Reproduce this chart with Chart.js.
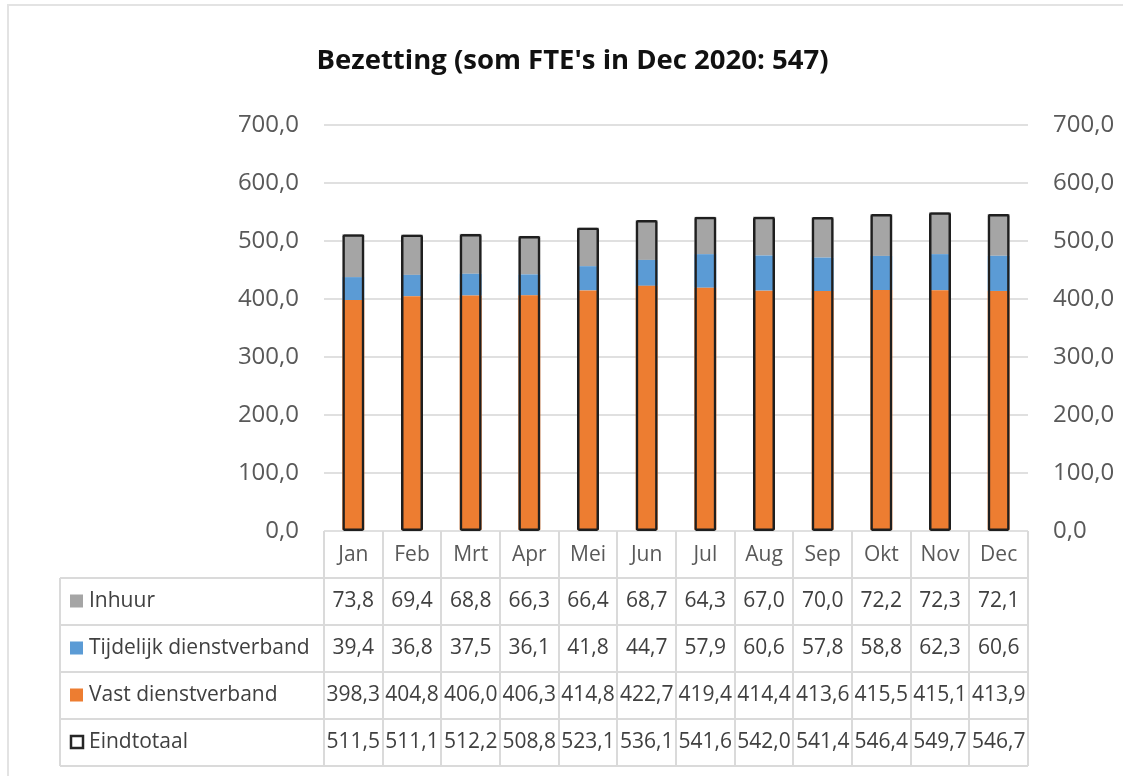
<!DOCTYPE html>
<html>
<head>
<meta charset="utf-8">
<script src="https://cdn.jsdelivr.net/npm/chart.js@4/dist/chart.umd.min.js"></script>
<style>
  body { margin: 0; background: #fff; }
  #wrap { width: 1123px; height: 776px; }
</style>
</head>
<body>
<div id="wrap"><canvas id="bezetting"></canvas></div>
<script>
// maanden en reeksen (FTE)
const maanden = ["Jan", "Feb", "Mrt", "Apr", "Mei", "Jun", "Jul", "Aug", "Sep", "Okt", "Nov", "Dec"];
const inhuur = [73.8, 69.4, 68.8, 66.3, 66.4, 68.7, 64.3, 67.0, 70.0, 72.2, 72.3, 72.1];
const tijdelijk = [39.4, 36.8, 37.5, 36.1, 41.8, 44.7, 57.9, 60.6, 57.8, 58.8, 62.3, 60.6];
const vast = [398.3, 404.8, 406.0, 406.3, 414.8, 422.7, 419.4, 414.4, 413.6, 415.5, 415.1, 413.9];
const eindtotaal = [511.5, 511.1, 512.2, 508.8, 523.1, 536.1, 541.6, 542.0, 541.4, 546.4, 549.7, 546.7];
const yTicks = [0, 100, 200, 300, 400, 500, 600, 700];

const fmt = (v) => v.toFixed(1).replace(".", ",");
const FONT = "'Open Sans', 'Noto Sans', sans-serif";

// rijen van de gegevenstabel onder de grafiek
const rijen = [
    { label: "Inhuur", data: inhuur, kleur: "#a5a5a5" },
    { label: "Tijdelijk dienstverband", data: tijdelijk, kleur: "#5b9bd5" },
    { label: "Vast dienstverband", data: vast, kleur: "#ed7d31" },
    { label: "Eindtotaal", data: eindtotaal, kleur: null },
];

const tabelPlugin = {
    id: "tabel",
    beforeDraw(chart) {
        const ctx = chart.ctx;
        ctx.save();
        ctx.strokeStyle = "#e3e3e3";
        ctx.lineWidth = 2;
        ctx.beginPath();
        ctx.moveTo(8, chart.height);
        ctx.lineTo(8, 5);
        ctx.lineTo(chart.width, 5);
        ctx.stroke();
        ctx.restore();
    },
    afterDraw(chart) {
        const ctx = chart.ctx;
        const xs = chart.scales.x;
        const links = xs.left, rechts = xs.right;
        const kolom = (rechts - links) / maanden.length;
        const top = chart.chartArea.bottom;
        const kopH = 47, rijH = 47;
        const tabelLinks = 60;
        const bodyTop = top + kopH;
        const bodyBottom = bodyTop + rijH * rijen.length;

        ctx.save();
        ctx.strokeStyle = "#dadada";
        ctx.lineWidth = 2;
        // verticale lijnen
        for (let i = 0; i <= maanden.length; i++) {
            const x = Math.round(links + i * kolom);
            ctx.beginPath();
            ctx.moveTo(x, top);
            ctx.lineTo(x, bodyBottom);
            ctx.stroke();
        }
        ctx.beginPath();
        ctx.moveTo(tabelLinks, bodyTop);
        ctx.lineTo(tabelLinks, bodyBottom);
        ctx.stroke();
        // horizontale lijnen
        for (let r = 0; r <= rijen.length; r++) {
            const y = Math.round(bodyTop + r * rijH);
            ctx.beginPath();
            ctx.moveTo(tabelLinks, y);
            ctx.lineTo(rechts, y);
            ctx.stroke();
        }

        ctx.textAlign = "center";
        ctx.textBaseline = "middle";
        // maanden
        ctx.font = "21px " + FONT;
        ctx.fillStyle = "#595959";
        maanden.forEach((m, i) => {
            ctx.fillText(m, xs.getPixelForValue(i), top + kopH / 2 + 1);
        });
        // waarden en legenda
        rijen.forEach((rij, r) => {
            const yc = bodyTop + r * rijH + rijH / 2;
            ctx.textAlign = "center";
            ctx.fillStyle = "#404040";
            rij.data.forEach((v, i) => {
                ctx.fillText(fmt(v), xs.getPixelForValue(i), yc);
            });
            if (rij.kleur) {
                ctx.fillStyle = rij.kleur;
                ctx.fillRect(70, yc - 7, 13, 13);
            } else {
                ctx.strokeStyle = "#262626";
                ctx.lineWidth = 2.5;
                ctx.strokeRect(71, yc - 6.5, 12, 12);
            }
            ctx.textAlign = "left";
            ctx.fillStyle = "#404040";
            ctx.fillText(rij.label, 89, yc);
        });
        ctx.restore();
    },
};

const asTicks = {
    color: "#595959",
    font: { family: FONT, size: 24 },
    padding: 25,
    callback: (v) => fmt(v),
};

new Chart(document.getElementById("bezetting"), {
    type: "bar",
    data: {
        labels: maanden,
        datasets: [
            { label: "Vast dienstverband", data: vast, backgroundColor: "#ed7d31", yAxisID: "y", order: 1 },
            { label: "Tijdelijk dienstverband", data: tijdelijk, backgroundColor: "#5b9bd5", yAxisID: "y", order: 1 },
            { label: "Inhuur", data: inhuur, backgroundColor: "#a5a5a5", yAxisID: "y", order: 1 },
            {
                label: "Eindtotaal",
                data: eindtotaal,
                backgroundColor: "rgba(0,0,0,0)",
                borderColor: "#1f1f1f",
                borderWidth: 2.5,
                borderRadius: 2,
                borderSkipped: false,
                yAxisID: "y2",
                order: 0,
            },
        ],
    },
    options: {
        responsive: true,
        maintainAspectRatio: false,
        animation: false,
        layout: { padding: { left: 22, right: 0, top: 0, bottom: 245 } },
        datasets: { bar: { grouped: false, barPercentage: 0.375, categoryPercentage: 1 } },
        plugins: {
            legend: { display: false },
            tooltip: { enabled: false },
            title: {
                display: true,
                text: "Bezetting (som FTE's in Dec 2020: 547)",
                color: "#111111",
                font: { family: FONT, size: 27.5, weight: "bold", lineHeight: 1.2 },
                padding: { top: 45, bottom: 47 },
            },
        },
        scales: {
            x: { display: false, stacked: true },
            y: {
                position: "left",
                stacked: true,
                min: 0,
                max: 700,
                afterBuildTicks: (s) => { s.ticks = yTicks.map((v) => ({ value: v })); },
                afterFit: (s) => { s.width = 302; },
                grid: { color: "#e0e0e0", lineWidth: 2, drawTicks: false },
                border: { display: false },
                ticks: asTicks,
            },
            y2: {
                position: "right",
                stacked: false,
                min: 0,
                max: 700,
                afterBuildTicks: (s) => { s.ticks = yTicks.map((v) => ({ value: v })); },
                afterFit: (s) => { s.width = 95; },
                grid: { display: false, drawTicks: false },
                border: { display: false },
                ticks: asTicks,
            },
        },
    },
    plugins: [tabelPlugin],
});
</script>
</body>
</html>
